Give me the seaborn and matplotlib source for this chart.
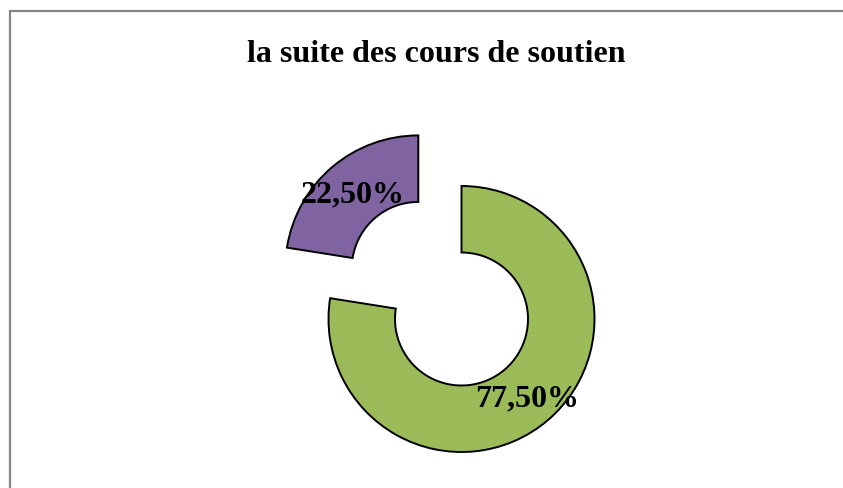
import matplotlib
matplotlib.use("Agg")
import matplotlib.pyplot as plt
import seaborn as sns
from matplotlib.patches import Rectangle

sns.set_theme(style="white")
plt.rcParams['font.family'] = ['Liberation Serif', 'DejaVu Serif']

title = "la suite des cours de soutien"
categories = ["oui", "non"]
values = [77.5, 22.5]
colors = ["#9BBB59", "#8064A2"]
explode = [0, 0.5]

W, H = 843, 488
fig = plt.figure(figsize=(W / 100, H / 100), dpi=100)
fig.patch.set_facecolor("white")

# outer border (cropped at right/bottom in the reference)
fig.patches.append(Rectangle((9.5 / W, -0.2), 1.5, (H - 10.5) / H + 0.2,
                             transform=fig.transFigure, fill=False,
                             edgecolor="#868686", linewidth=1.6))

ax = fig.add_axes([0, 0, 1, 1])
cx, cy, R = 461.5, H - 319, 133.0

def fmt(p):
    return f"{p:.2f}%".replace(".", ",")

wedges, texts, autotexts = ax.pie(
    values, labels=None, colors=colors, explode=explode, startangle=90,
    counterclock=False, autopct=fmt, pctdistance=0.76,
    wedgeprops=dict(width=0.5, edgecolor="black", linewidth=1.4),
    textprops=dict(fontsize=23, fontweight="bold", color="black"))
for t in autotexts:
    t.set_va("center_baseline")

ax.set_xlim((0 - cx) / R, (W - cx) / R)
ax.set_ylim((0 - cy) / R, (H - cy) / R)
ax.set_aspect("auto")
ax.axis("off")

fig.text(436 / W, (H - 62) / H, title, ha="center", va="baseline",
         fontsize=23, fontweight="bold", color="black")

fig.savefig("out.png", dpi=100, facecolor="white")
